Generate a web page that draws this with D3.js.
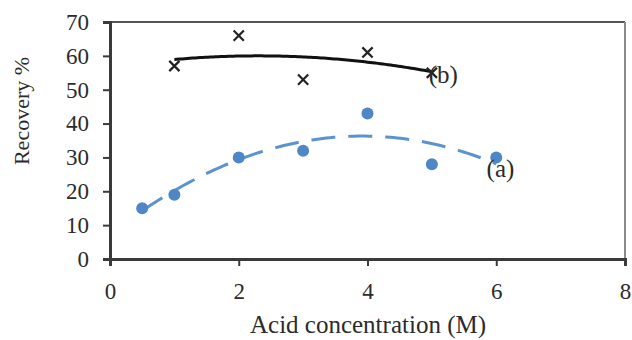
<!DOCTYPE html>
<html>
<head>
<meta charset="utf-8">
<script src="https://cdn.jsdelivr.net/npm/d3@7"></script>
<style>
  body { margin: 0; background: #fff; }
  text { font-family: "Liberation Serif", "Times New Roman", serif; fill: #2b2b2b; }
</style>
</head>
<body>
<svg id="chart" width="632" height="340"></svg>
<script>
// series (a): blue circles, dashed polynomial trend
var acidA = [0.5, 1, 2, 3, 4, 5, 6];
var recoveryA = [15, 19, 30, 32, 43, 28, 30];

// series (b): black crosses, solid polynomial trend
var acidB = [1, 2, 3, 4, 5];
var recoveryB = [57, 66, 53, 61, 55];

var xTicks = [0, 2, 4, 6, 8];
var yTicks = [0, 10, 20, 30, 40, 50, 60, 70];

var svg = d3.select('#chart');

var x = d3.scaleLinear().domain([0, 8]).range([110, 625]);
var y = d3.scaleLinear().domain([0, 70]).range([259, 22]);

// least squares fit, 2nd order (like the spreadsheet trendline)
function polyfit2(xs, ys) {
  var n = xs.length, s = [0, 0, 0, 0, 0], t = [0, 0, 0];
  for (var i = 0; i < n; i++) {
    var p = 1;
    for (var k = 0; k < 5; k++) {
      s[k] += p;
      if (k < 3) t[k] += p * ys[i];
      p *= xs[i];
    }
  }
  var m = [
    [s[0], s[1], s[2], t[0]],
    [s[1], s[2], s[3], t[1]],
    [s[2], s[3], s[4], t[2]]
  ];
  for (var c = 0; c < 3; c++) {
    for (var r = c + 1; r < 3; r++) {
      var f = m[r][c] / m[c][c];
      for (var j = c; j < 4; j++) m[r][j] -= f * m[c][j];
    }
  }
  var coef = [0, 0, 0];
  for (var r2 = 2; r2 >= 0; r2--) {
    var v = m[r2][3];
    for (var j2 = r2 + 1; j2 < 3; j2++) v -= m[r2][j2] * coef[j2];
    coef[r2] = v / m[r2][r2];
  }
  return function (xv) { return coef[0] + coef[1] * xv + coef[2] * xv * xv; };
}

function trendPoints(xs, ys) {
  var f = polyfit2(xs, ys);
  var lo = d3.min(xs), hi = d3.max(xs);
  return d3.range(0, 101).map(function (i) {
    var xv = lo + (hi - lo) * i / 100;
    return [xv, f(xv)];
  });
}

var line = d3.line()
  .x(function (d) { return x(d[0]); })
  .y(function (d) { return y(d[1]); })
  .curve(d3.curveLinear);

// frame: top and right borders
svg.append('line')
  .attr('x1', x(0)).attr('x2', x(8))
  .attr('y1', y(70)).attr('y2', y(70))
  .attr('stroke', '#555').attr('stroke-width', 2);
svg.append('line')
  .attr('x1', x(8)).attr('x2', x(8))
  .attr('y1', y(70)).attr('y2', y(0))
  .attr('stroke', '#8a8a8a').attr('stroke-width', 2);

// y axis
var yAxis = svg.append('g')
  .attr('transform', 'translate(' + x(0) + ',0)')
  .call(d3.axisLeft(y).tickValues(yTicks).tickSize(7).tickPadding(14));
yAxis.select('.domain').attr('stroke', '#3a3a3a').attr('stroke-width', 3);
yAxis.selectAll('.tick line').attr('stroke', '#3a3a3a').attr('stroke-width', 2);
yAxis.selectAll('.tick text')
  .attr('font-family', '"Liberation Serif", serif')
  .attr('font-size', 23).attr('fill', '#333');

// x axis
var xAxis = svg.append('g')
  .attr('transform', 'translate(0,' + y(0) + ')')
  .call(d3.axisBottom(x).tickValues(xTicks).tickSize(7).tickPadding(17));
xAxis.select('.domain').attr('stroke', '#3a3a3a').attr('stroke-width', 3);
xAxis.selectAll('.tick line').attr('stroke', '#3a3a3a').attr('stroke-width', 2);
xAxis.selectAll('.tick text')
  .attr('font-family', '"Liberation Serif", serif')
  .attr('font-size', 23).attr('fill', '#333');

// trend lines
svg.append('path')
  .datum(trendPoints(acidA, recoveryA))
  .attr('d', line)
  .attr('fill', 'none')
  .attr('stroke', '#5b93cf')
  .attr('stroke-width', 3)
  .attr('stroke-dasharray', '24,13');

svg.append('path')
  .datum(trendPoints(acidB, recoveryB))
  .attr('d', line)
  .attr('fill', 'none')
  .attr('stroke', '#111')
  .attr('stroke-width', 3);

// series (a) markers
svg.selectAll('circle.a')
  .data(acidA)
  .enter()
  .append('circle')
  .attr('class', 'a')
  .attr('cx', function (d) { return x(d); })
  .attr('cy', function (d, i) { return y(recoveryA[i]); })
  .attr('r', 6)
  .attr('fill', '#4f86c6');

// series (b) markers
var cross = d3.symbol().type(d3.symbolX).size(70);
svg.selectAll('path.b')
  .data(acidB)
  .enter()
  .append('path')
  .attr('class', 'b')
  .attr('d', cross)
  .attr('transform', function (d, i) {
    return 'translate(' + x(d) + ',' + y(recoveryB[i]) + ')';
  })
  .attr('fill', 'none')
  .attr('stroke', '#222')
  .attr('stroke-width', 2.2);

// series labels
svg.append('text')
  .attr('x', x(4.95)).attr('y', y(52))
  .attr('font-size', 25).attr('fill', '#111')
  .text('(b)');
svg.append('text')
  .attr('x', x(5.85)).attr('y', y(24.2))
  .attr('font-size', 25).attr('fill', '#111')
  .text('(a)');

// axis titles
svg.append('text')
  .attr('transform', 'translate(29,111) rotate(-90)')
  .attr('text-anchor', 'middle')
  .attr('font-size', 22)
  .text('Recovery %');

svg.append('text')
  .attr('x', 368).attr('y', 333)
  .attr('text-anchor', 'middle')
  .attr('font-size', 25)
  .text('Acid concentration (M)');
</script>
</body>
</html>
